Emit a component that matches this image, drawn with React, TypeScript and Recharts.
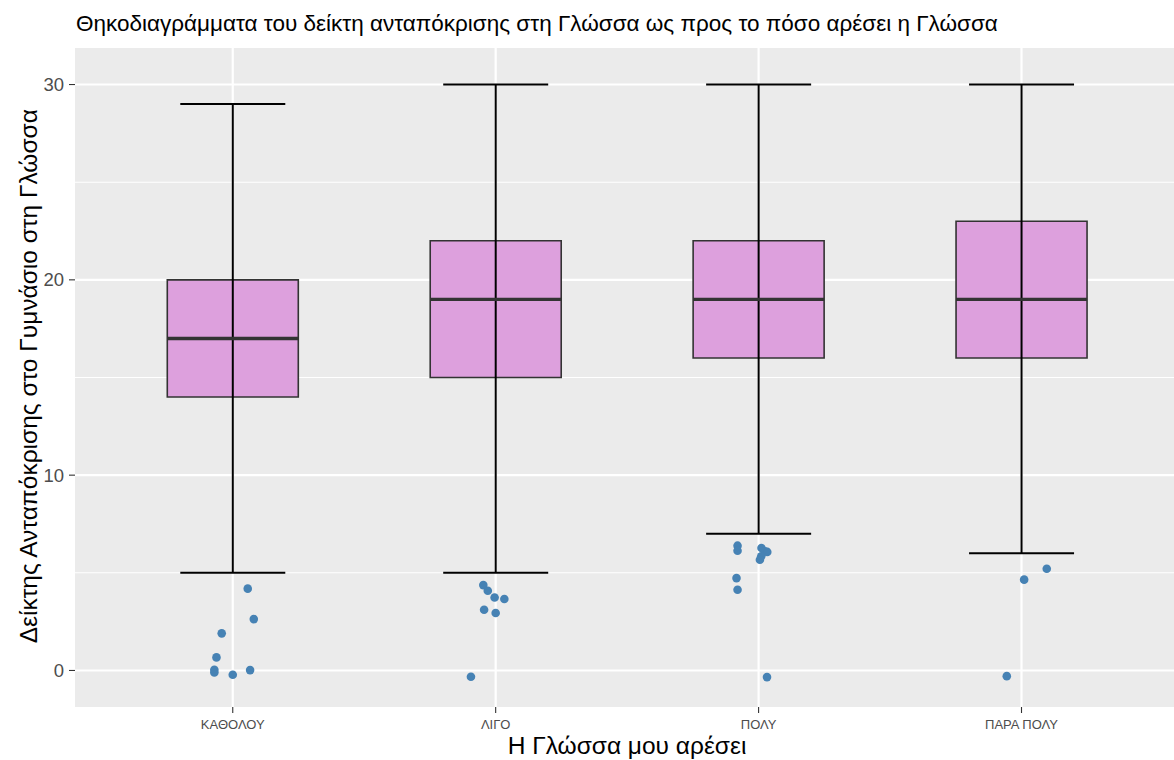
import React from 'react';
import { ComposedChart, XAxis, YAxis, Bar, Scatter, CartesianGrid } from 'recharts';

const categories = ['ΚΑΘΟΛΟΥ', 'ΛΙΓΟ', 'ΠΟΛΥ', 'ΠΑΡΑ ΠΟΛΥ'];
const positions = [1, 2, 3, 4];
const whiskerLow = [5, 5, 7, 6];
const lowerQuartile = [14, 15, 16, 16];
const medians = [17, 19, 19, 19];
const upperQuartile = [20, 22, 22, 23];
const whiskerHigh = [29, 30, 30, 30];

// jittered outliers (x in category units, y in score units)
const outlierX = [
  1.057, 1.08, 0.958, 0.938, 0.93, 0.93, 1.0, 1.066,
  1.953, 1.97, 1.996, 2.033, 1.956, 2.0, 1.906,
  2.92, 2.92, 3.011, 3.024, 3.033, 3.01, 3.005, 2.916, 2.92, 3.032,
  4.096, 4.01, 3.944,
];
const outlierY = [
  4.19, 2.63, 1.9, 0.67, 0.04, -0.1, -0.22, 0.02,
  4.37, 4.08, 3.74, 3.66, 3.11, 2.94, -0.32,
  6.39, 6.13, 6.27, 6.1, 6.07, 5.85, 5.67, 4.73, 4.13, -0.34,
  5.21, 4.65, -0.29,
];

const yTicks = [0, 10, 20, 30];
const yMinor = [5, 15, 25];

const FONT = '"Liberation Sans", Arial, sans-serif';

const boxData = positions.map((p, i) => ({
  pos: p,
  box: [lowerQuartile[i], upperQuartile[i]],
  whisker: [whiskerLow[i], whiskerHigh[i]],
  median: medians[i],
}));

const outliers = outlierX.map((x, i) => ({ pos: x, value: outlierY[i] }));

const WhiskerShape = (props: any) => {
  const { x, y, width, height } = props;
  const top = Math.min(y, y + height);
  const bottom = Math.max(y, y + height);
  const cx = x + width / 2;
  return (
    <g stroke="#000" strokeWidth={2} fill="none">
      <line x1={cx} x2={cx} y1={top} y2={bottom} />
      <line x1={x} x2={x + width} y1={top} y2={top} />
      <line x1={x} x2={x + width} y1={bottom} y2={bottom} />
    </g>
  );
};

const MedianShape = (props: any) => {
  const { cx, cy } = props;
  return <line x1={cx - 65.5} x2={cx + 65.5} y1={cy} y2={cy} stroke="#333333" strokeWidth={3.4} />;
};

const PointShape = (props: any) => {
  const { cx, cy } = props;
  return <circle cx={cx} cy={cy} r={4.3} fill="#4682B4" />;
};

export default function App() {
  return (
    <div style={{ position: 'absolute', left: 0, top: 0, width: 1174, height: 760, fontFamily: FONT, background: '#fff', overflow: 'hidden' }}>
      <div style={{ position: 'absolute', left: 76, top: 13, fontSize: 22.5, lineHeight: '22.5px', color: '#000', whiteSpace: 'nowrap' }}>
        Θηκοδιαγράμματα του δείκτη ανταπόκρισης στη Γλώσσα ως προς το πόσο αρέσει η Γλώσσα
      </div>
      <ComposedChart width={1174} height={760} data={boxData} margin={{ top: 48, right: 0, bottom: 0, left: 0 }} style={{ fontFamily: FONT }}>
        <CartesianGrid horizontal={false} vertical={false} fill="#EBEBEB" stroke="none" />
        <CartesianGrid horizontalValues={yMinor} vertical={false} stroke="#FFFFFF" strokeWidth={1.1} strokeDasharray="" />
        <CartesianGrid horizontalValues={yTicks} verticalValues={positions} stroke="#FFFFFF" strokeWidth={2.2} strokeDasharray="" />
        <XAxis
          type="number"
          dataKey="pos"
          domain={[0.4, 4.58]}
          allowDataOverflow
          ticks={positions}
          interval={0}
          tickFormatter={(v: number) => categories[v - 1]}
          height={53}
          axisLine={false}
          tickSize={6}
          tickMargin={7}
          tickLine={{ stroke: '#333333', strokeWidth: 1.1 }}
          tick={{ fontSize: 13, fill: '#4D4D4D' }}
        />
        <XAxis xAxisId="box" type="number" dataKey="pos" domain={[0.4, 4.58]} allowDataOverflow hide />
        <XAxis xAxisId="err" type="number" dataKey="pos" domain={[0.4, 4.58]} allowDataOverflow hide />
        <YAxis
          type="number"
          domain={[-1.87, 31.87]}
          allowDataOverflow
          ticks={yTicks}
          width={75}
          axisLine={false}
          tickSize={6}
          tickMargin={5}
          tickLine={{ stroke: '#333333', strokeWidth: 1.1 }}
          tick={{ fontSize: 18.5, fill: '#4D4D4D' }}
        />
        <Bar xAxisId="box" dataKey="box" barSize={131} fill="#DDA0DD" stroke="#333333" strokeWidth={1.6} isAnimationActive={false} />
        <Scatter dataKey="median" shape={<MedianShape />} isAnimationActive={false} />
        <Bar xAxisId="err" dataKey="whisker" barSize={105} shape={<WhiskerShape />} isAnimationActive={false} />
        <Scatter data={outliers} dataKey="value" shape={<PointShape />} isAnimationActive={false} />
      </ComposedChart>
      <div style={{ position: 'absolute', left: 327, top: 734.3, width: 600, textAlign: 'center', fontSize: 24.5, lineHeight: '24.5px', color: '#000', whiteSpace: 'nowrap' }}>
        Η Γλώσσα μου αρέσει
      </div>
      <div style={{ position: 'absolute', left: -271.5, top: 364.25, width: 600, textAlign: 'center', fontSize: 24.5, lineHeight: '24.5px', color: '#000', whiteSpace: 'nowrap', transform: 'rotate(-90deg)' }}>
        Δείκτης Ανταπόκρισης στο Γυμνάσιο στη Γλώσσα
      </div>
    </div>
  );
}
